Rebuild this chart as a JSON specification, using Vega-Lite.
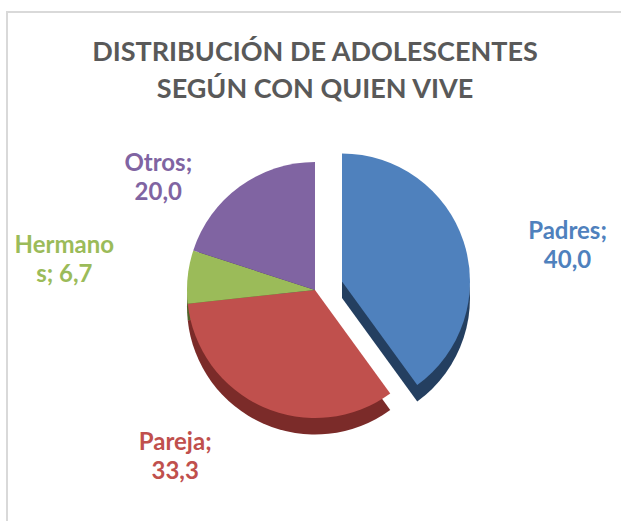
{
  "$schema": "https://vega.github.io/schema/vega-lite/v6.json",
  "width": 616,
  "height": 512,
  "autosize": {"type": "none"},
  "padding": {"left": 7, "top": 12, "right": 0, "bottom": 0},
  "background": "white",
  "view": {"stroke": "#d9d9d9", "strokeWidth": 2},
  "title": {
    "text": ["DISTRIBUCIÓN DE ADOLESCENTES", "SEGÚN CON QUIEN VIVE"],
    "font": "Lato",
    "fontSize": 27,
    "fontWeight": "bold",
    "color": "#595959",
    "lineHeight": 37,
    "anchor": "middle",
    "frame": "group",
    "offset": -92
  },
  "data": {
    "values": [
      {"quien": "Padres", "valor": 40.0, "orden": 1, "etiqueta": "Padres;\n40,0"},
      {"quien": "Pareja", "valor": 33.3, "orden": 2, "etiqueta": "Pareja;\n33,3"},
      {"quien": "Hermanos", "valor": 6.7, "orden": 3, "etiqueta": "Hermano\ns; 6,7"},
      {"quien": "Otros", "valor": 20.0, "orden": 4, "etiqueta": "Otros;\n20,0"}
    ]
  },
  "transform": [
    {"stack": "valor", "groupby": [], "sort": [{"field": "orden", "order": "ascending"}], "as": ["v0", "v1"]}
  ],
  "layer": [
    {
      "transform": [{"filter": "datum.quien !== 'Padres'"}],
      "mark": {"type": "arc", "outerRadius": 128, "yOffset": 38.5},
      "encoding": {
        "theta": {"field": "v0", "type": "quantitative", "scale": {"domain": [0, 100], "range": [0, 6.283185307]}},
        "theta2": {"field": "v1"},
        "color": {"field": "quien", "type": "nominal", "legend": null,
          "scale": {"domain": ["Padres", "Pareja", "Hermanos", "Otros"], "range": ["#243f60", "#7b2b29", "#4f6228", "#3f3151"]}}
      }
    },
    {
      "transform": [{"filter": "datum.quien === 'Padres'"}],
      "mark": {"type": "arc", "outerRadius": 128, "xOffset": 27, "yOffset": 30},
      "encoding": {
        "theta": {"field": "v0", "type": "quantitative", "scale": {"domain": [0, 100], "range": [0, 6.283185307]}},
        "theta2": {"field": "v1"},
        "color": {"field": "quien", "type": "nominal", "legend": null,
          "scale": {"domain": ["Padres", "Pareja", "Hermanos", "Otros"], "range": ["#243f60", "#7b2b29", "#4f6228", "#3f3151"]}}
      }
    },
    {
      "transform": [{"filter": "datum.quien !== 'Padres'"}],
      "mark": {"type": "arc", "outerRadius": 128, "yOffset": 22},
      "encoding": {
        "theta": {"field": "v0", "type": "quantitative", "scale": {"domain": [0, 100], "range": [0, 6.283185307]}},
        "theta2": {"field": "v1"},
        "color": {"field": "quien", "type": "nominal", "legend": null,
          "scale": {"domain": ["Padres", "Pareja", "Hermanos", "Otros"], "range": ["#4f81bd", "#c0504d", "#9bbb59", "#8064a2"]}}
      }
    },
    {
      "transform": [{"filter": "datum.quien === 'Padres'"}],
      "mark": {"type": "arc", "outerRadius": 128, "xOffset": 27, "yOffset": 13.5},
      "encoding": {
        "theta": {"field": "v0", "type": "quantitative", "scale": {"domain": [0, 100], "range": [0, 6.283185307]}},
        "theta2": {"field": "v1"},
        "color": {"field": "quien", "type": "nominal", "legend": null,
          "scale": {"domain": ["Padres", "Pareja", "Hermanos", "Otros"], "range": ["#4f81bd", "#c0504d", "#9bbb59", "#8064a2"]}}
      }
    },
    {
      "mark": {"type": "text", "radius": 255, "yOffset": 22, "dx": 10, "dy": 21, "font": "Lato", "fontSize": 24, "fontWeight": "bold", "color": "#4f81bd", "lineBreak": "\n", "lineHeight": 29, "align": "center", "baseline": "middle"},
      "encoding": {
        "theta": {"field": "valor", "type": "quantitative", "stack": true, "scale": {"domain": [0, 100], "range": [0, 6.283185307]}},
        "order": {"field": "orden"},
        "text": {"condition": {"test": "datum.quien === 'Padres'", "field": "etiqueta"}, "value": ""}
      }
    },
    {
      "mark": {"type": "text", "radius": 209, "yOffset": 22, "dx": -55, "dy": -38, "font": "Lato", "fontSize": 24, "fontWeight": "bold", "color": "#c0504d", "lineBreak": "\n", "lineHeight": 29, "align": "center", "baseline": "middle"},
      "encoding": {
        "theta": {"field": "valor", "type": "quantitative", "stack": true, "scale": {"domain": [0, 100], "range": [0, 6.283185307]}},
        "order": {"field": "orden"},
        "text": {"condition": {"test": "datum.quien === 'Pareja'", "field": "etiqueta"}, "value": ""}
      }
    },
    {
      "mark": {"type": "text", "radius": 252, "yOffset": 22, "dx": 0, "dy": -18, "font": "Lato", "fontSize": 24, "fontWeight": "bold", "color": "#9bbb59", "lineBreak": "\n", "lineHeight": 29, "align": "center", "baseline": "middle"},
      "encoding": {
        "theta": {"field": "valor", "type": "quantitative", "stack": true, "scale": {"domain": [0, 100], "range": [0, 6.283185307]}},
        "order": {"field": "orden"},
        "text": {"condition": {"test": "datum.quien === 'Hermanos'", "field": "etiqueta"}, "value": ""}
      }
    },
    {
      "mark": {"type": "text", "radius": 185, "yOffset": 22, "dx": -48, "dy": 24, "font": "Lato", "fontSize": 24, "fontWeight": "bold", "color": "#8064a2", "lineBreak": "\n", "lineHeight": 29, "align": "center", "baseline": "middle"},
      "encoding": {
        "theta": {"field": "valor", "type": "quantitative", "stack": true, "scale": {"domain": [0, 100], "range": [0, 6.283185307]}},
        "order": {"field": "orden"},
        "text": {"condition": {"test": "datum.quien === 'Otros'", "field": "etiqueta"}, "value": ""}
      }
    }
  ],
  "resolve": {"scale": {"color": "independent"}}
}
